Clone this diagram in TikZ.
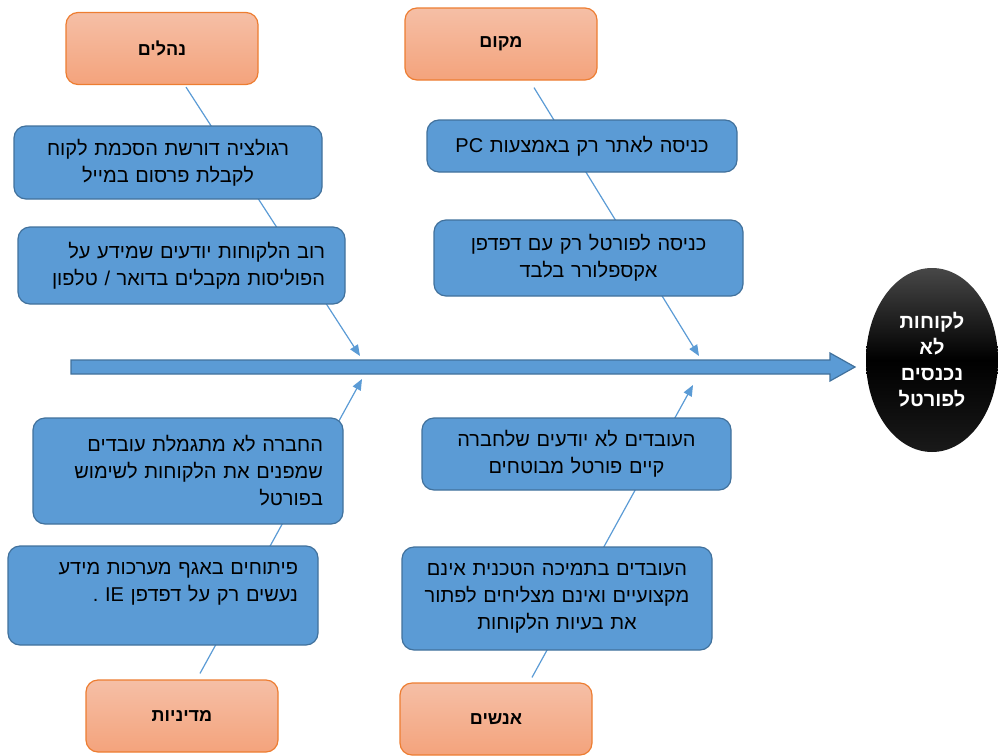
\documentclass[tikz,border=0pt]{standalone}
\usepackage{fontspec}
\newfontfamily\hebfont[Script=Hebrew]{Liberation Sans}
\TeXXeTstate=1
\newcommand{\heb}[1]{\beginR #1\endR}
\usetikzlibrary {arrows.meta}
\usetikzlibrary {shapes.geometric}
\usetikzlibrary {calc}
\usetikzlibrary {backgrounds}
\definecolor{boxblue}{HTML}{5B9BD5}
\definecolor{boxline}{HTML}{41719C}
\definecolor{catline}{HTML}{ED7D31}
\definecolor{cattop}{HTML}{F5BFA6}
\definecolor{catbot}{HTML}{F4A37C}
\begin{document}
\begin{tikzpicture} [x=1pt, y=-1pt,
        cat/.style={draw=catline, rectangle, rounded corners=12pt, line width=1.2pt, top color=cattop, bottom color=catbot, minimum width=192pt, minimum height=72pt, font=\hebfont\bfseries\fontsize{18}{22}\selectfont},
        cause/.style={draw=boxline, rectangle, rounded corners=12pt, line width=1.2pt, fill=boxblue, inner xsep=20pt, inner ysep=4pt, font=\hebfont\fontsize{20}{27}\selectfont},
        effect/.style={ellipse, top color=black!72, bottom color=black!90, middle color=black, minimum width=132pt, minimum height=184pt, inner sep=0pt, align=center, text=white, font=\hebfont\bfseries\fontsize{20}{26}\selectfont},
        spine/.style={draw=boxline, fill=boxblue, line width=1.2pt},
        bone/.style={draw=boxblue, line width=1.2pt, -{Triangle[length=11pt,width=9pt]}} ]
    \useasboundingbox (0,0) rectangle (998,755);
    \node[cat] (nehalim) at (162,48.5) {\heb{נהלים}};
    \node[cat] (makom) at (501,44) {\heb{מקום}};
    \node[cat] (mediniyut) at (182,716) {\heb{מדיניות}};
    \node[cat] (anashim) at (496,719) {\heb{אנשים}};
    \node[cause, text width=268pt, minimum height=73pt, align=center] (reg) at (168,162.5) {\heb{רגולציה דורשת הסכמת לקוח}\\\heb{לקבלת פרסום במייל}};
    \node[cause, text width=287pt, minimum height=77pt, align=right] (rov) at (181.5,265.5) {\heb{רוב הלקוחות יודעים שמידע על}\\\heb{הפוליסות מקבלים בדואר / טלפון}};
    \node[cause, text width=270pt, minimum height=52pt, align=center] (pc) at (582,146) {\heb{כניסה לאתר רק באמצעות \beginL PC\endL}};
    \node[cause, text width=269pt, minimum height=76pt, align=center] (explorer) at (588.5,258) {\heb{כניסה לפורטל רק עם דפדפן}\\\heb{אקספלורר בלבד}};
    \node[cause, text width=270pt, minimum height=106pt, align=right] (hevra) at (188,471) {\heb{החברה לא מתגמלת עובדים}\\\heb{שמפנים את הלקוחות לשימוש}\\\heb{בפורטל}};
    \node[cause, text width=270pt, minimum height=99pt, align=right] (pituh) at (163,595.5) {\heb{פיתוחים באגף מערכות מידע}\\\heb{נעשים רק על דפדפן \beginL IE\endL{} .}\\~};
    \node[cause, text width=269pt, minimum height=72pt, align=center] (ovdim) at (576.5,454) {\heb{העובדים לא יודעים שלחברה}\\\heb{קיים פורטל מבוטחים}};
    \node[cause, text width=270pt, minimum height=103pt, align=center] (tmicha) at (557,598.5) {\heb{העובדים בתמיכה הטכנית אינם}\\\heb{מקצועיים ואינם מצליחים לפתור}\\\heb{את בעיות הלקוחות}};
    \node[effect] (effect) at (932,360) {\heb{לקוחות}\\\heb{לא}\\\heb{נכנסים}\\\heb{לפורטל}};
    \draw[spine] (71,360) -- (830,360) -- (830,353) -- (855,367) -- (830,381) -- (830,374) -- (71,374) -- cycle;
    \coordinate (tl) at (360,356);
    \coordinate (tr) at (699,356);
    \coordinate (bl) at (362,379);
    \coordinate (br) at (693,385);
    \begin{scope}[on background layer]
    \draw[bone] ($(nehalim.south)+(24,2)$) -- (tl);
    \draw[bone] ($(makom.south)+(33,7)$) -- (tr);
    \draw[bone] ($(mediniyut.north)+(18,-6)$) -- (bl);
    \draw[bone] ($(anashim.north)+(36,-5)$) -- (br);
    \end{scope}
\end{tikzpicture}
\end{document}
